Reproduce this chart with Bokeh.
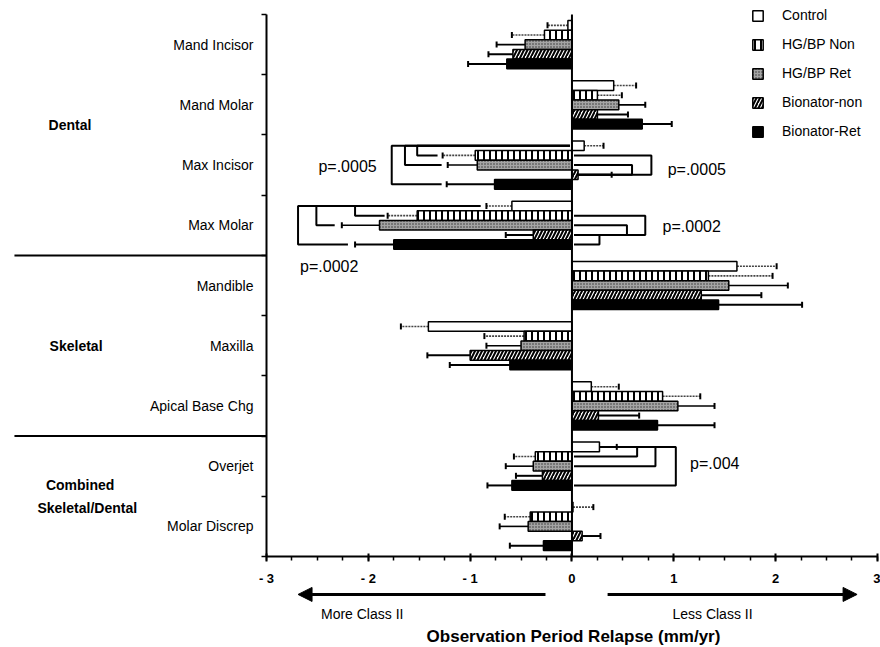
import numpy as np
from bokeh.plotting import figure
from bokeh.models import (ColumnDataSource, Range1d, FixedTicker, Whisker, TeeHead,
                          Arrow, NormalHead, Legend, LegendItem)
from bokeh.core.properties import value
from bokeh.embed import file_html
from bokeh.resources import INLINE

# ---------------- data ----------------
categories = ["Mand Incisor", "Mand Molar", "Max Incisor", "Max Molar", "Mandible",
              "Maxilla", "Apical Base Chg", "Overjet", "Molar Discrep"]
series_names = ["Control", "HG/BP Non", "HG/BP Ret", "Bionator-non", "Bionator-Ret"]

control_mean = [-0.04, 0.41, 0.12, -0.59, 1.62, -1.41, 0.19, 0.27, 0.01]
control_err = [-0.24, 0.63, 0.31, -0.84, 2.01, -1.68, 0.46, 0.44, 0.21]
hgbp_non_mean = [-0.27, 0.25, -0.95, -1.52, 1.34, -0.47, 0.89, -0.36, -0.41]
hgbp_non_err = [-0.59, 0.49, -1.27, -1.81, 1.97, -0.86, 1.26, -0.57, -0.66]
hgbp_ret_mean = [-0.46, 0.46, -0.93, -1.89, 1.54, -0.50, 1.04, -0.38, -0.43]
hgbp_ret_err = [-0.74, 0.72, -1.22, -2.26, 2.12, -0.84, 1.40, -0.65, -0.71]
bion_non_mean = [-0.58, 0.25, 0.06, -0.38, 1.27, -1.00, 0.26, -0.29, 0.10]
bion_non_err = [-0.82, 0.55, 0.39, -0.65, 1.86, -1.42, 0.66, -0.55, 0.28]
bion_ret_mean = [-0.64, 0.69, -0.76, -1.75, 1.44, -0.61, 0.84, -0.59, -0.28]
bion_ret_err = [-1.02, 0.98, -1.23, -2.13, 2.26, -1.20, 1.40, -0.83, -0.61]

means = [control_mean, hgbp_non_mean, hgbp_ret_mean, bion_non_mean, bion_ret_mean]
errs = [control_err, hgbp_non_err, hgbp_ret_err, bion_non_err, bion_ret_err]

# significance brackets: category, from-series, to-series, bracket x, start x, end x
bracket_cat = [2, 2, 2, 2, 2, 3, 3, 3, 3, 3, 3, 7, 7, 7]
bracket_from = [0, 0, 0, 1, 2, 0, 0, 0, 1, 2, 3, 0, 0, 0]
bracket_to = [4, 2, 1, 3, 3, 4, 2, 1, 3, 3, 4, 4, 2, 1]
bracket_x = [-1.77, -1.64, -1.52, 0.78, 0.59, -2.69, -2.51, -2.13, 0.72, 0.54, 0.27, 1.02, 0.82, 0.64]
bracket_x0 = [-0.02, -0.02, -0.02, 0.02, 0.02, -0.90, -0.90, -0.90, 0.02, 0.02, 0.02, 0.02, 0.27, 0.27]
bracket_x1 = [-1.28, -1.28, -1.32, 0.06, 0.06, -2.20, -2.33, -1.84, 0.02, 0.02, 0.02, 0.02, 0.02, 0.02]

pval_text = ["p=.0005", "p=.0005", "p=.0002", "p=.0002", "p=.004"]
pval_x = [-2.49, 0.94, 0.89, -2.67, 1.16]
pval_y = [2.52, 2.57, 3.52, 4.18, 7.46]

group_names = ["Dental", "Skeletal", "Combined", "Skeletal/Dental"]
group_x = [-4.93, -4.87, -4.83, -4.76]
group_y = [1.84, 5.50, 7.82, 8.20]
group_bounds = [4, 7]

xticks = [-3, -2, -1, 0, 1, 2, 3]
xtick_labels = ["- 3", "- 2", "- 1", "0", "1", "2", "3"]

direction_text = ["More Class II", "Less Class II"]
x_title = "Observation Period Relapse (mm/yr)"

# ---------------- figure ----------------
FONT = "Liberation Sans"
bar_h = 0.16
ncat = len(categories)

# the frame fills the whole canvas; axes are drawn at fixed locations
p = figure(width=880, height=647, x_range=Range1d(-5.612, 3.030), y_range=Range1d(10.511, -0.2325),
           output_backend="svg", toolbar_location=None, title=None, min_border=0)
p.xgrid.visible = False
p.ygrid.visible = False
p.outline_line_color = None
p.background_fill_color = "white"

def row_y(cat, s):
    return cat + 0.5 + (s - 2) * bar_h

# brackets (drawn first, bars on top)
bxs, bys = [], []
for c, f, t, bx, x0, x1 in zip(bracket_cat, bracket_from, bracket_to, bracket_x, bracket_x0, bracket_x1):
    yf, yt = row_y(c, f), row_y(c, t)
    bxs.append([x0, bx, bx, x1])
    bys.append([yf, yf, yt, yt])
p.multi_line(bxs, bys, line_color="black", line_width=2)

styles = [
    dict(fill_color="white"),
    dict(fill_color="white", hatch_pattern="vertical_line", hatch_scale=6, hatch_weight=2, hatch_color="black"),
    dict(fill_color="#a4a4a4", hatch_pattern="dot", hatch_scale=3, hatch_weight=1, hatch_color="#303030"),
    dict(fill_color="white", hatch_pattern="right_diagonal_line", hatch_scale=7, hatch_weight=2, hatch_color="black"),
    dict(fill_color="black"),
]
err_styles = [
    dict(line_color="#444444", line_width=1.6, line_dash="2 1"),
    dict(line_color="#444444", line_width=1.6, line_dash="2 1"),
    dict(line_color="black", line_width=1.6, line_dash="solid"),
    dict(line_color="black", line_width=2, line_dash="solid"),
    dict(line_color="black", line_width=2, line_dash="solid"),
]

legend_items = []
for s, name in enumerate(series_names):
    src = ColumnDataSource(dict(y=[row_y(c, s) for c in range(ncat)], val=means[s], err=errs[s]))
    r = p.hbar(y="y", left=0, right="val", height=bar_h, source=src,
               line_color="black", line_width=1.5, **styles[s])
    legend_items.append(LegendItem(label=name, renderers=[r]))
    es = err_styles[s]
    p.add_layout(Whisker(source=src, base="y", lower="val", upper="err", dimension="width",
                         line_color=es["line_color"], line_width=es["line_width"],
                         line_dash=es["line_dash"],
                         upper_head=TeeHead(size=6, line_width=2, line_color="black"),
                         lower_head=None))

# zero line
p.segment(x0=[0], y0=[0], x1=[0], y1=[ncat], line_color="black", line_width=2)

# p-values
p.text(x=pval_x, y=pval_y, text=pval_text, text_font=value(FONT), text_font_size="16px",
       text_align="left", text_baseline="middle", text_color="black")

# axes at fixed locations
p.xaxis.fixed_location = ncat
p.xaxis.bounds = (xticks[0], xticks[-1])
p.xaxis.ticker = FixedTicker(ticks=xticks, minor_ticks=list(np.arange(-3, 3.01, 0.25)))
p.xaxis.major_label_overrides = {t: l for t, l in zip(xticks, xtick_labels)}
p.xaxis.axis_line_width = 2
p.xaxis.major_tick_in = 3
p.xaxis.major_tick_out = 5
p.xaxis.minor_tick_in = 0
p.xaxis.minor_tick_out = 4
p.xaxis.major_tick_line_width = 2
p.xaxis.minor_tick_line_width = 1.5
p.xaxis.major_label_standoff = 9
p.xaxis.major_label_text_font = FONT
p.xaxis.major_label_text_font_style = "bold"
p.xaxis.major_label_text_font_size = "13px"
p.xaxis.major_label_text_color = "black"

centers = [c + 0.5 for c in range(ncat)]
p.yaxis.fixed_location = xticks[0]
p.yaxis.bounds = (0, ncat)
p.yaxis.ticker = FixedTicker(ticks=centers, minor_ticks=list(range(ncat + 1)))
p.yaxis.major_label_overrides = {c: n for c, n in zip(centers, categories)}
p.yaxis.axis_line_width = 2
p.yaxis.major_tick_in = 0
p.yaxis.major_tick_out = 0
p.yaxis.minor_tick_in = 0
p.yaxis.minor_tick_out = 5
p.yaxis.minor_tick_line_width = 1.5
p.yaxis.major_label_standoff = 8
p.yaxis.major_label_text_font = FONT
p.yaxis.major_label_text_font_size = "14px"
p.yaxis.major_label_text_color = "black"

# group labels and separators on the left
p.text(x=group_x, y=group_y, text=group_names, text_font=value(FONT), text_font_size="14px",
       text_font_style="bold", text_align="center", text_baseline="middle", text_color="black")
p.segment(x0=[-5.475] * len(group_bounds), y0=group_bounds, x1=[xticks[0]] * len(group_bounds),
          y1=group_bounds, line_color="black", line_width=2)

# direction arrows and axis title
p.add_layout(Arrow(x_start=-0.26, y_start=9.63, x_end=-2.69, y_end=9.63, line_width=3,
                   end=NormalHead(size=14, fill_color="black", line_color="black")))
p.add_layout(Arrow(x_start=0.35, y_start=9.63, x_end=2.80, y_end=9.63, line_width=3,
                   end=NormalHead(size=14, fill_color="black", line_color="black")))
p.text(x=[-2.06, 1.38], y=[9.95, 9.95], text=direction_text, text_font=value(FONT),
       text_font_size="14px", text_align="center", text_baseline="middle", text_color="black")
p.text(x=[0.015], y=[10.33], text=[x_title], text_font=value(FONT), text_font_size="17px",
       text_font_style="bold", text_align="center", text_baseline="middle", text_color="black")

legend = Legend(items=legend_items, location=(751, 508), padding=4, spacing=13,
                glyph_height=13, glyph_width=13, label_height=13, label_standoff=18,
                label_text_font=FONT, label_text_font_size="14px", label_text_color="black",
                background_fill_alpha=0, border_line_color=None)
p.add_layout(legend)

open("out.html", "w").write(file_html(p, INLINE))
